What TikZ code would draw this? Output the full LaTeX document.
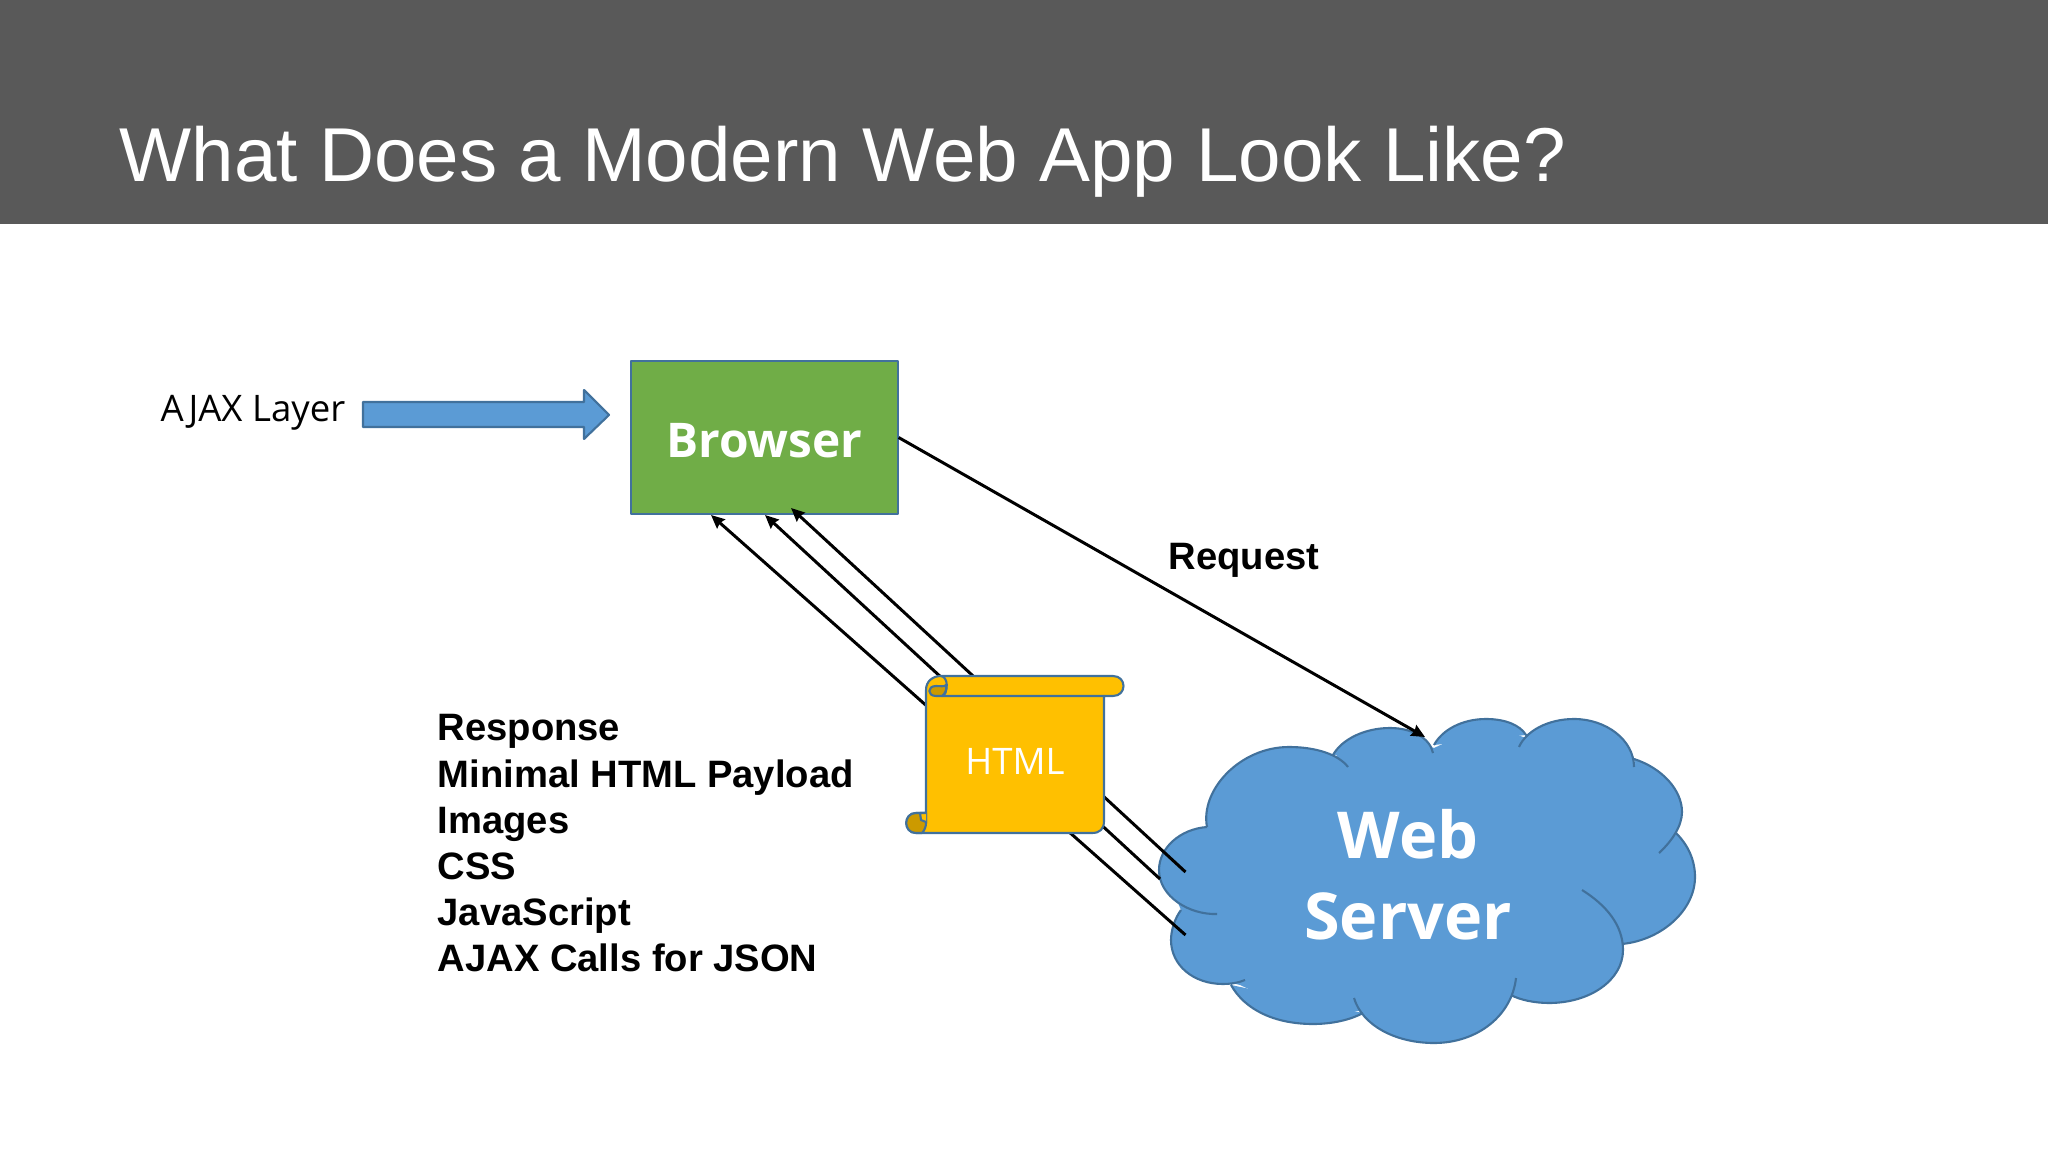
\documentclass[tikz,border=0pt]{standalone}
\usepackage{fontspec}
\setmainfont{Liberation Sans}
\newfontfamily\uifont{Open Sans}
\usepackage{xcolor}
\usetikzlibrary{arrows.meta,positioning}
\definecolor{headergrey}{RGB}{89,89,89}
\definecolor{browsergreen}{RGB}{112,173,71}
\definecolor{shapeblue}{RGB}{91,155,213}
\definecolor{shapeedge}{RGB}{65,113,156}
\definecolor{scrollgold}{RGB}{255,192,0}
\definecolor{scrollcurl}{RGB}{204,154,0}

\begin{document}
\begin{tikzpicture}[
    x=0.01cm, y=-0.01cm,
    outline/.style={draw=shapeedge, line width=0.6pt, line join=round},
    boxnode/.style={outline, fill=browsergreen, minimum width=2.66cm,
                    minimum height=1.53cm, inner sep=0pt, text=white, text height=11.1pt, text depth=0pt,
                    font=\uifont\bfseries\fontsize{13.6}{16}\selectfont},
    cloudtext/.style={align=center, text=white,
                      font=\uifont\bfseries\fontsize{18.4}{23}\selectfont},
    scrolltext/.style={text=white, font=\uifont\fontsize{10.4}{12}\selectfont},
    title/.style={text=white, anchor=base west, inner sep=0pt,
                  font=\fontsize{21.72}{26}\selectfont},
    label/.style={anchor=base west, inner sep=0pt,
                  font=\bfseries\fontsize{10.86}{13.09}\selectfont},
    arr/.style={-{Stealth[length=3.8pt,width=3.4pt,inset=0.4pt]}, line width=0.85pt, draw=black}
]
\useasboundingbox (0,0) rectangle (2048,1152);
\fill[headergrey] (0,0) rectangle (2048,224);
\node[title] (heading) at (119,182) {What Does a Modern Web App Look Like?};

% the cloud, lobe by lobe
\fill[shapeblue] (1207,827) -- (1289,752) -- (1333,757) -- (1390,733) -- (1434,748) -- (1486,724)
    -- (1526,738) -- (1574,724) -- (1634,762) -- (1677,812) -- (1674,835) -- (1690,877)
    -- (1622,944) -- (1549,998) -- (1511,993) -- (1434,1038) -- (1363,1010) -- (1313,1019)
    -- (1240,985) -- (1223,981) -- (1181,910) -- (1164,870) -- cycle;
\path[outline, fill=shapeblue]
    (1217,914) .. controls (1190,915) and (1159,897) .. (1159,870) .. controls (1159,848) and (1180,829) .. (1207,827)
    (1207,827) .. controls (1200,790) and (1240,747) .. (1289,747) .. controls (1315,747) and (1338,754) .. (1348,767)
    (1333,755) .. controls (1342,739) and (1365,728) .. (1390,728) .. controls (1412,728) and (1430,738) .. (1433,753)
    (1434,745) .. controls (1442,730) and (1462,719) .. (1486,719) .. controls (1505,719) and (1520,725) .. (1526,735)
    (1519,747) .. controls (1526,731) and (1548,719) .. (1574,719) .. controls (1606,719) and (1634,740) .. (1634,767)
    (1634,759) .. controls (1662,768) and (1682,790) .. (1682,812) .. controls (1682,826) and (1672,841) .. (1659,853)
    (1676,833) .. controls (1688,845) and (1695,860) .. (1695,877) .. controls (1695,910) and (1662,940) .. (1622,944)
    (1582,890) .. controls (1606,905) and (1623,925) .. (1623,950) .. controls (1623,980) and (1590,1003) .. (1549,1003)
        .. controls (1535,1003) and (1520,1000) .. (1511,995)
    (1516,978) .. controls (1512,1015) and (1478,1043) .. (1434,1043) .. controls (1395,1043) and (1362,1025) .. (1354,998)
    (1363,1013) .. controls (1350,1020) and (1332,1024) .. (1313,1024) .. controls (1275,1024) and (1245,1010) .. (1231,985)
    (1245,980) .. controls (1238,983) and (1230,984) .. (1223,984) .. controls (1193,984) and (1171,965) .. (1171,940)
        .. controls (1171,930) and (1175,918) .. (1181,910);
\node[cloudtext] (server) at (1408,875) {Web\\Server};

\node[boxnode] (browser) at (764.5,437.5) {Browser};
\node[label, anchor=base] (request) at (1244,569.5) {Request};
\node[anchor=base west, inner sep=0pt, font=\uifont\fontsize{10.4}{12}\selectfont] (ajax) at (160,422) {AJAX Layer};
\node[label, align=left, anchor=north west] (payload) at (437,714)
    {Response\\Minimal HTML Payload\\Images\\CSS\\JavaScript\\AJAX Calls for JSON};

\coordinate (reqend) at (1425,737);
\coordinate (tipa) at (711,515);
\coordinate (tipb) at (765,515);
\coordinate (tipc) at (791,508);
\coordinate (taila) at (1185.5,935);
\coordinate (tailb) at (1160,879);
\coordinate (tailc) at (1185.5,872);
\draw[arr] (browser.east) -- (reqend);
\draw[arr] (taila) -- (tipa);
\draw[arr] (tailb) -- (tipb);
\draw[arr] (tailc) -- (tipc);

% block arrow next to the layer label
\draw[outline, fill=shapeblue] (363,402) -- (584,402) -- (584,390) -- (609,415)
    -- (584,439) -- (584,427) -- (363,427) -- cycle;

% the scroll
\path[outline, fill=scrollgold] (926,823) -- (926,690) .. controls (926,681) and (933,676) .. (941,676)
    -- (1113,676) .. controls (1127,676) and (1127,696) .. (1113,696) -- (1104,696) -- (1104,821)
    .. controls (1104,829) and (1100,833) .. (1092,833) -- (916,833) .. controls (903,833) and (903,813) .. (916,813) -- (926,813);
\path[outline, fill=scrollcurl] (942,696) -- (936,696) .. controls (927,696) and (927,686) .. (936,686)
    .. controls (941,686) and (944,687) .. (946,685) .. controls (947,692) and (945,695) .. (942,696);
\draw[outline] (941,676) .. controls (948,677) and (949,691) .. (942,696) -- (1104,696);
\path[outline, fill=scrollcurl] (926,813) -- (916,813) .. controls (903,813) and (903,833) .. (916,833)
    -- (922,833) .. controls (925,830) and (926,826) .. (926,823) -- cycle;
\draw[outline, fill=scrollgold] (926,813) -- (920,813) -- (921,820) -- (926,822);
\node[scrolltext] (html) at (1015,761) {HTML};
\end{tikzpicture}
\end{document}
